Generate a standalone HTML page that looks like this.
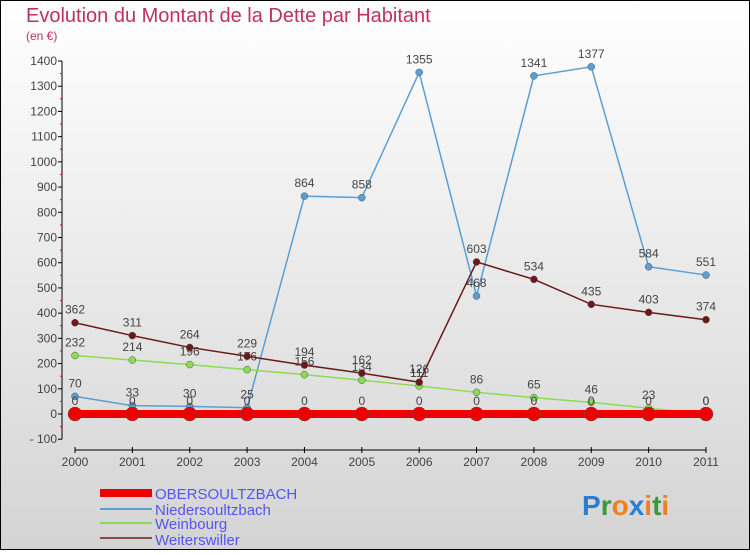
<!DOCTYPE html>
<html><head><meta charset="utf-8"><style>
body{margin:0;width:750px;height:550px;overflow:hidden;font-family:"Liberation Sans",sans-serif}
svg text{font-family:"Liberation Sans",sans-serif}
</style></head><body>
<svg id="c" width="750" height="550" xmlns="http://www.w3.org/2000/svg">
<defs><linearGradient id="bg" x1="0" y1="0" x2="0" y2="1"><stop offset="0" stop-color="#ffffff"/><stop offset="1" stop-color="#d4d4d4"/></linearGradient></defs>
<rect x="0.5" y="0.5" width="749" height="549" fill="url(#bg)" stroke="#000"/>
<text x="26" y="22" font-size="20" fill="#c03060">Evolution du Montant de la Dette par Habitant</text>
<text x="26" y="40" font-size="12" fill="#c03060">(en €)</text>
<g id="axes"></g><g id="series"></g>
<g>
<rect x="100" y="489" width="52" height="8" fill="#e00"/>
<text x="155" y="499" font-size="15" fill="#5555ee">OBERSOULTZBACH</text>
<line x1="100" y1="509" x2="152" y2="509" stroke="#5a9fd4" stroke-width="2"/>
<text x="155" y="515" font-size="15" fill="#5555ee">Niedersoultzbach</text>
<line x1="100" y1="523" x2="152" y2="523" stroke="#88dd55" stroke-width="2"/>
<text x="155" y="529" font-size="15" fill="#5555ee">Weinbourg</text>
<line x1="100" y1="538" x2="152" y2="538" stroke="#8b4a4a" stroke-width="2"/>
<text x="155" y="545" font-size="15" fill="#5555ee">Weiterswiller</text>
</g>
<g font-size="28" font-weight="bold">
<text x="582" y="515"><tspan fill="#2a7fd0">P</tspan><tspan fill="#3a9a3a">r</tspan><tspan fill="#f08020">o</tspan><tspan fill="#2a7fd0">x</tspan><tspan fill="#f08020">i</tspan><tspan fill="#3a9a3a">t</tspan><tspan fill="#f08020">i</tspan></text>
</g>
</svg>
<script>
const years=[2000,2001,2002,2003,2004,2005,2006,2007,2008,2009,2010,2011];
const oberValues=[0,0,0,0,0,0,0,0,0,0,0,0];
const niederValues=[70,33,30,25,864,858,1355,468,1341,1377,584,551];
const weinValues=[232,214,196,176,156,134,111,86,65,46,23,0];
const weiterValues=[362,311,264,229,194,162,126,603,534,435,403,374];
const yTicks=[-100,0,100,200,300,400,500,600,700,800,900,1000,1100,1200,1300,1400];
const NS="http://www.w3.org/2000/svg";
const xs=i=>75+i*(706-75)/(years.length-1);
const ys=v=>414-v*(414-61)/1400;
function mk(tag,attrs,parent){const e=document.createElementNS(NS,tag);for(const k in attrs)e.setAttribute(k,attrs[k]);parent.appendChild(e);return e;}
const ax=document.getElementById('axes');
const yaxis=mk('line',{x1:62,y1:ys(-100),x2:62,y2:ys(1400),stroke:'#000'},ax);


yTicks.forEach(t=>{
  mk('line',{x1:58,y1:ys(t),x2:62,y2:ys(t),stroke:'#000'},ax);
  if(t<1400)mk('line',{x1:60,y1:ys(t+50),x2:62,y2:ys(t+50),stroke:'#e00'},ax);
  const tx=mk('text',{x:57,y:ys(t)+4,'font-size':12,'text-anchor':'end',fill:'#444'},ax);
  tx.textContent=t===-100?'- 100':t;
  
  
});
const xaxis=mk('line',{x1:75,y1:450,x2:706,y2:450,stroke:'#000'},ax);


years.forEach((y,i)=>{
  mk('line',{x1:xs(i),y1:447,x2:xs(i),y2:453,stroke:'#000'},ax);
  const tx=mk('text',{x:xs(i),y:466,'font-size':12,'text-anchor':'middle',fill:'#444'},ax);
  tx.textContent=y;
  
  
});
const sg=document.getElementById('series');
function series(vals,color,w,r,name){
  const g=mk('g',{},sg);
  
  
  mk('polyline',{points:vals.map((v,i)=>xs(i)+','+ys(v)).join(' '),fill:'none',stroke:color,'stroke-width':w},g);
  vals.forEach((v,i)=>{
    const c=mk('circle',{cx:xs(i),cy:ys(v),r:r,fill:color,stroke:'#555','stroke-width':0.5},g);
    
    
    const t=mk('text',{x:xs(i),y:ys(v)-9,'font-size':12,'text-anchor':'middle',fill:'#444'},g);
    t.textContent=v;
  });
}
series(niederValues,'#5a9fd4',1.5,3.5,'niedersoultzbach-line');
series(weinValues,'#88dd55',1.5,3.5,'weinbourg-line');
series(weiterValues,'#6b1a1a',1.5,3.5,'weiterswiller-line');
series(oberValues,'#e00',8,7,'obersoultzbach-line');
</script>
</body></html>
